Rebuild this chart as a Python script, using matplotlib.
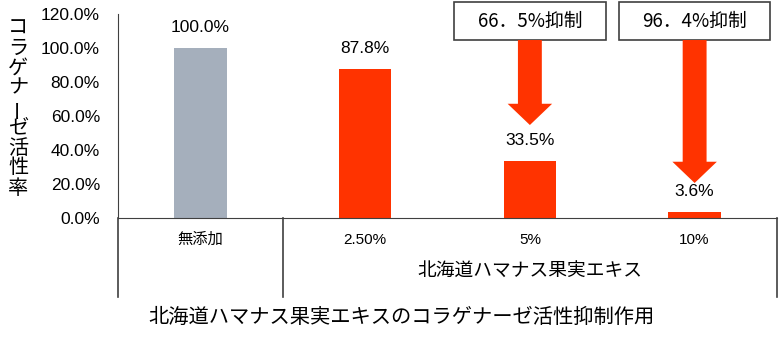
import matplotlib
matplotlib.use('Agg')
import matplotlib.pyplot as plt
from matplotlib.patches import Rectangle, FancyArrow

plt.rcParams['font.family'] = ['Liberation Sans', 'Noto Sans CJK JP', 'DejaVu Sans']

# données
categories = ['無添加', '2.50%', '5%', '10%']
values = [100.0, 87.8, 33.5, 3.6]
value_labels = ['100.0%', '87.8%', '33.5%', '3.6%']
bar_colors = ['#A5AFBC', '#FF3300', '#FF3300', '#FF3300']
yticks = [0, 20, 40, 60, 80, 100, 120]
ytick_labels = ['0.0%', '20.0%', '40.0%', '60.0%', '80.0%', '100.0%', '120.0%']
group_label = '北海道ハマナス果実エキス'
ylabel = 'コラゲナーゼ活性率'
title = '北海道ハマナス果実エキスのコラゲナーゼ活性抑制作用'

# encadrés d'inhibition : index de la barre, texte, pointe de la flèche
inhib_idx = [2, 3]
inhib_text = ['66．5%抑制', '96．4%抑制']
arrow_tip = [54.7, 20.6]

fig = plt.figure(figsize=(7.8, 3.58), dpi=100)
ax = fig.add_axes([118 / 780, 1 - 218 / 358, 659 / 780, 204 / 358])

x = list(range(len(categories)))
ax.bar(x, values, width=0.32, color=bar_colors)
for xi, v, lab in zip(x, values, value_labels):
    ax.annotate(lab, (xi, v), xytext=(0, 14.5), textcoords='offset points',
                ha='center', va='center', fontsize=12.5)

ax.set_xlim(-0.5, 3.5)
ax.set_ylim(0, 120)
ax.set_yticks(yticks)
ax.set_yticklabels(ytick_labels, fontsize=12.5)
ax.tick_params(axis='y', length=0, pad=13)
ax.set_xticks([])
for s in ['top', 'right']:
    ax.spines[s].set_visible(False)
ax.spines['left'].set_color('#404040')
ax.spines['bottom'].set_color('#404040')

# tableau sous l'axe
tr = ax.get_xaxis_transform()
for xl in [-0.5, 0.5, 3.5]:
    ax.plot([xl, xl], [0, -0.388], transform=tr, color='#404040', lw=1.2, clip_on=False)
for xi, c in zip(x, categories):
    ax.text(xi, -0.108, c, transform=tr, ha='center', va='center', fontsize=11)
ax.text(2, -0.265, group_label, transform=tr, ha='center', va='center', fontsize=13.5)

# flèches et encadrés
for i, t, tip in zip(inhib_idx, inhib_text, arrow_tip):
    box_bottom, box_top = 104.7, 127.0
    ax.add_patch(Rectangle((i - 0.46, box_bottom), 0.92, box_top - box_bottom,
                           facecolor='white', edgecolor='#404040', lw=1.2, clip_on=False))
    ax.text(i, (box_bottom + box_top) / 2, t, ha='center', va='center',
            fontsize=13.5, family=['Noto Sans CJK JP'], clip_on=False)
    ax.add_patch(FancyArrow(i, box_bottom, 0, tip - box_bottom, width=0.145,
                            head_width=0.27, head_length=12.5,
                            length_includes_head=True, color='#FF3300', lw=0, clip_on=False))

# titre de l'axe y, vertical
y0 = 28
for k, ch in enumerate(ylabel):
    rot = 90 if ch == 'ー' else 0
    fig.text(18 / 780, 1 - (y0 + k * 20) / 358, ch, ha='center', va='center',
             fontsize=14.5, rotation=rot, family=['Noto Sans CJK JP'])

fig.text(401 / 780, 1 - 317 / 358, title, ha='center', va='center', fontsize=14.6,
         family=['Noto Sans CJK JP'])

fig.savefig('out.png', dpi=100)
